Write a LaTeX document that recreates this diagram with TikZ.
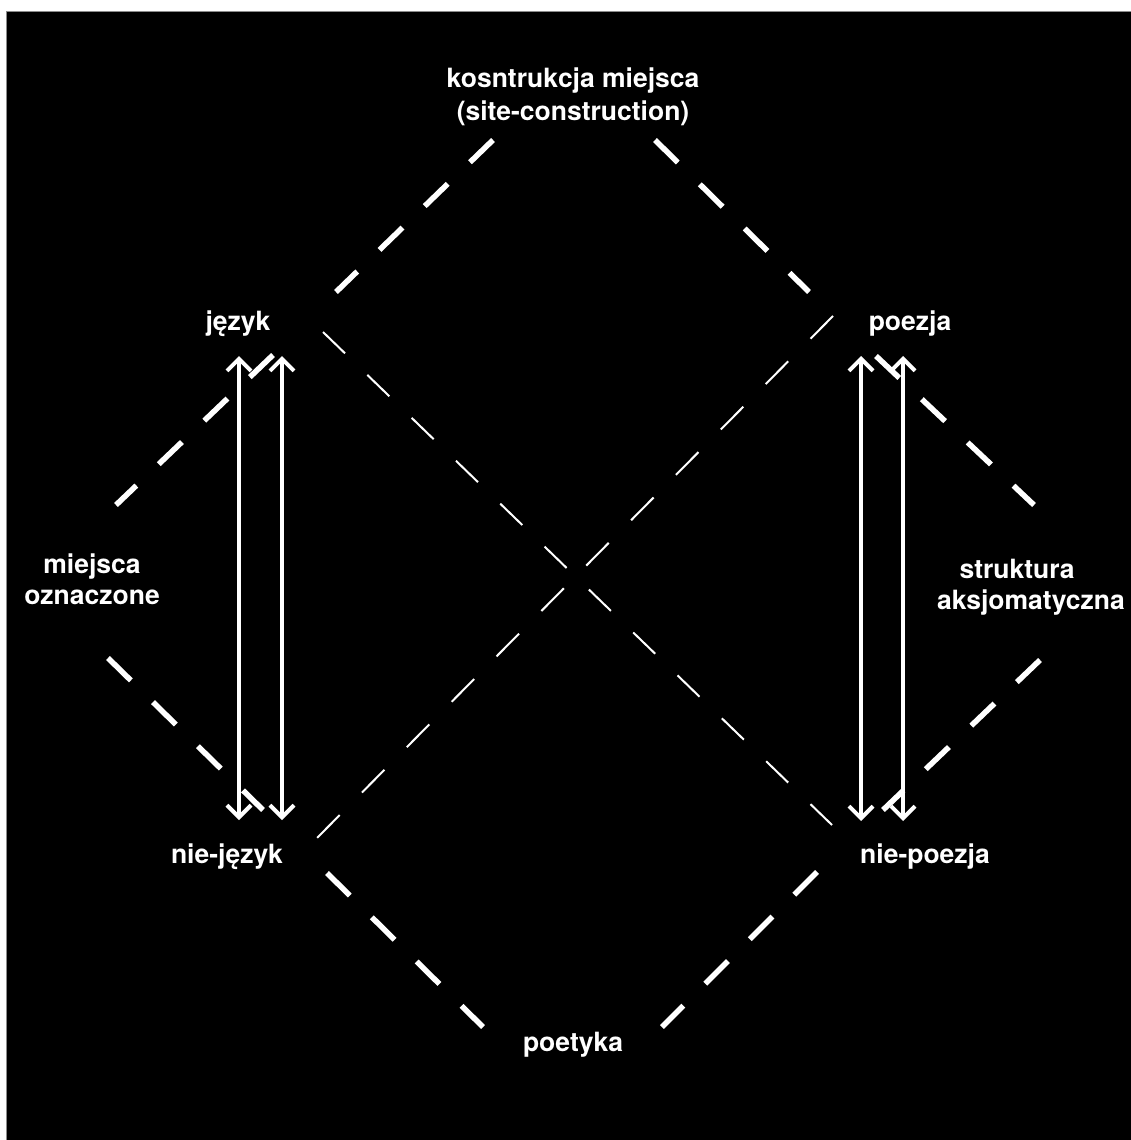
\documentclass[tikz,border=0pt]{standalone}
\usepackage{fontspec}
\setmainfont{TeX Gyre Heros}
\usetikzlibrary{arrows.meta}
\begin{document}
\begin{tikzpicture}[x=1pt,y=-1pt,
  lbl/.style={text=white,font=\bfseries\fontsize{26.5}{32}\selectfont,inner sep=0pt,anchor=base},
  thickdash/.style={white,line width=5.5pt,line cap=butt,dash pattern=on 32pt off 31pt},
  thindash/.style={white,line width=2pt,line cap=butt},
  vlink/.style={white,line width=4pt,{Straight Barb[length=12pt,width=24pt]}-{Straight Barb[length=12pt,width=24pt]}}]
\useasboundingbox (0,0) rectangle (1131,1140);
\fill[white] (0,0) rectangle (1131,1140);
\path[fill=black,draw=black!45,line width=1pt] (6,12) rectangle (1133,1142);

% labels
\node[lbl] (kosA) at (573,88) {kosntrukcja miejsca};
\node[lbl] (kosB) at (573,120) {(site-construction)};
\node[lbl] (jez) at (238,330) {język};
\node[lbl] (poe) at (910,330) {poezja};
\node[lbl] (niejez) at (227,863) {nie-język};
\node[lbl] (niepoe) at (925,863) {nie-poezja};
\node[lbl] (poet) at (573,1051) {poetyka};
\node[lbl] (mieA) at (92,573) {miejsca};
\node[lbl] (mieB) at (92,604) {oznaczone};
\node[lbl] (strA) at (1017,578) {struktura};
\node[lbl] (strB) at (1031,609) {aksjomatyczna};

% endpoints of the thick dashed edges
\coordinate (a1) at (493,140); \coordinate (a2) at (336,292);
\coordinate (b1) at (273,355); \coordinate (b2) at (116,505);
\coordinate (c1) at (655,140); \coordinate (c2) at (809,292);
\coordinate (d1) at (876,356); \coordinate (d2) at (1034,505);
\coordinate (e1) at (108,658); \coordinate (e2) at (263,810);
\coordinate (f1) at (327,873); \coordinate (f2) at (483,1027);
\coordinate (g1) at (1040,660); \coordinate (g2) at (883,810);
\coordinate (h1) at (817,872); \coordinate (h2) at (662,1027);
% thin diagonals
\coordinate (j1) at (323,332); \coordinate (j2) at (832,825);
\coordinate (k1) at (833,316); \coordinate (k2) at (317,838);
% vertical arrows
\coordinate (la1) at (239,356); \coordinate (la2) at (239,820);
\coordinate (lb1) at (282,356); \coordinate (lb2) at (282,820);
\coordinate (ra1) at (861,356); \coordinate (ra2) at (861,821);
\coordinate (rb1) at (903,356); \coordinate (rb2) at (903,821);

\draw[thickdash] (a1) -- (a2);
\draw[thickdash] (b1) -- (b2);
\draw[thickdash] (c1) -- (c2);
\draw[thickdash] (d1) -- (d2);
\draw[thickdash] (e1) -- (e2);
\draw[thickdash] (f1) -- (f2);
\draw[thickdash] (g1) -- (g2);
\draw[thickdash] (h1) -- (h2);

\draw[thindash,dash pattern=on 30.6pt off 31.1pt] (j1) -- (j2);
\draw[thindash,dash pattern=on 32pt off 31.8pt] (k1) -- (k2);

\draw[vlink] (la1) -- (la2);
\draw[vlink] (lb1) -- (lb2);
\draw[vlink] (ra1) -- (ra2);
\draw[vlink] (rb1) -- (rb2);
\end{tikzpicture}
\end{document}
